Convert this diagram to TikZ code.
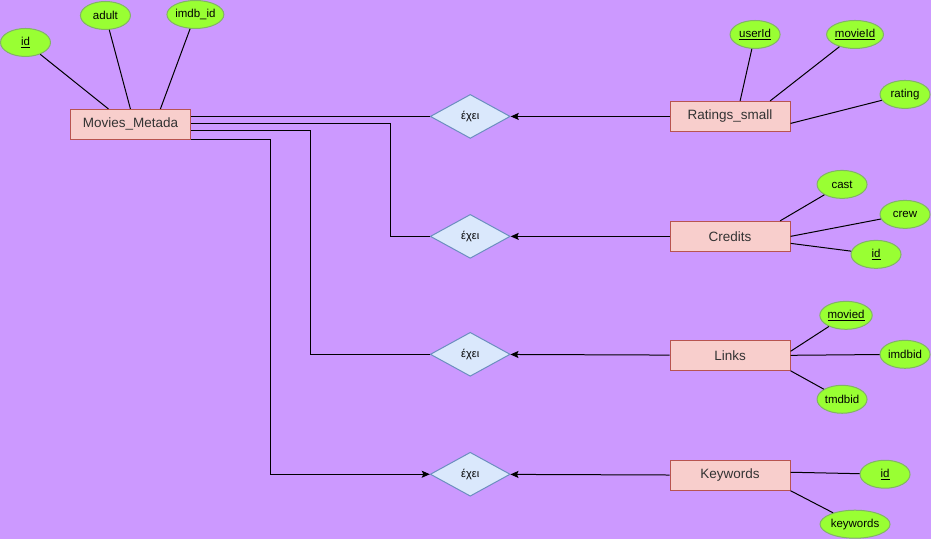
\documentclass[tikz,border=0pt]{standalone}
\usepackage{fontspec}
\setmainfont{Liberation Sans}
\usetikzlibrary{shapes.geometric, arrows.meta}
\definecolor{bgpurple}{HTML}{CC99FF}
\definecolor{entfill}{HTML}{F8CECC}
\definecolor{entdraw}{HTML}{B85450}
\definecolor{attfill}{HTML}{99FF33}
\definecolor{attdraw}{HTML}{82B366}
\definecolor{relfill}{HTML}{DAE8FC}
\definecolor{reldraw}{HTML}{6C8EBF}
\definecolor{txtgray}{HTML}{333333}
\begin{document}
\begin{tikzpicture}[x=1pt, y=-1pt, line width=1pt, >={Stealth[length=8pt, width=7pt, inset=1.5pt]},
    entity/.style={rectangle, draw=entdraw, fill=entfill, text=txtgray, minimum width=120pt, minimum height=30pt, inner sep=0pt, font=\fontsize{13.5}{15}\selectfont},
    attr/.style={ellipse, draw=attdraw, fill=attfill, minimum width=50pt, minimum height=28pt, inner sep=0pt, font=\fontsize{11.5}{13}\selectfont},
    rel/.style={diamond, draw=reldraw, fill=relfill, minimum width=80pt, minimum height=44pt, inner sep=0pt, font=\fontsize{11}{13}\selectfont}]
\fill[bgpurple] (0,0) rectangle (931,539);

\node[entity] (MM) at (130,124) {Movies\_Metada};
\node[attr] (MMid) at (25,42) {\underline{id}};
\node[attr] (MMadult) at (105,15) {adult};
\node[attr] (MMimdb) at (195,14) {imdb\_id};

\node[rel] (R1) at (470,116) {έχει};
\node[rel] (R2) at (470,236) {έχει};
\node[rel] (R3) at (470,354) {έχει};
\node[rel] (R4) at (470,474) {έχει};

\node[entity] (RS) at (730,116) {Ratings\_small};
\node[attr] (RSuser) at (755,34) {\underline{userId}};
\node[attr] (RSmovie) at (855,34) {\underline{movieId}};
\node[attr] (RSrating) at (905,94) {rating};

\node[entity] (CR) at (730,236) {Credits};
\node[attr] (CRcast) at (842,184) {cast};
\node[attr] (CRcrew) at (905,214) {crew};
\node[attr] (CRid) at (876,254) {\underline{id}};

\node[entity] (LK) at (730,355) {Links};
\node[attr] (LKmovie) at (846,315) {\underline{movied}};
\node[attr] (LKimdb) at (905,354) {imdbid};
\node[attr] (LKtmdb) at (842,399) {tmdbid};

\node[entity] (KW) at (730,475) {Keywords};
\node[attr] (KWid) at (885,474) {\underline{id}};
\node[attr, minimum width=70pt] (KWkey) at (855,524) {keywords};

% attributes
\draw (MMid) -- (MM.north -| 108,0);
\draw (MMadult) -- (MM.north);
\draw (MMimdb) -- (MM.north -| 160,0);
\draw (RSuser) -- (RS.north -| 740,0);
\draw (RSmovie) -- (RS.north -| 770,0);
\draw (RSrating) -- ([yshift=-7pt]RS.east);
\draw (CRcast) -- (CR.north -| 780,0);
\draw (CRcrew) -- (CR.east);
\draw (CRid) -- ([yshift=-7pt]CR.east);
\draw (LKmovie) -- ([yshift=4pt]LK.east);
\draw (LKimdb) -- (LK.east);
\draw (LKtmdb) -- (LK.south east);
\draw (KWid) -- ([yshift=3pt]KW.east);
\draw (KWkey) -- (KW.south east);

% relations
\draw[->] (RS) -- (R1);
\draw[->] (CR) -- (R2);
\draw[->] (LK) -- (R3);
\draw[->] (KW) -- (R4);

\draw ([yshift=8pt]MM.east) -- (R1.west);
\draw ([yshift=1pt]MM.east) -- ++(200,0) |- (R2.west);
\draw ([yshift=-6pt]MM.east) -- ++(120,0) |- (R3.west);
\draw[->] (MM.south east) -- ++(80,0) |- (R4.west);
\end{tikzpicture}
\end{document}
